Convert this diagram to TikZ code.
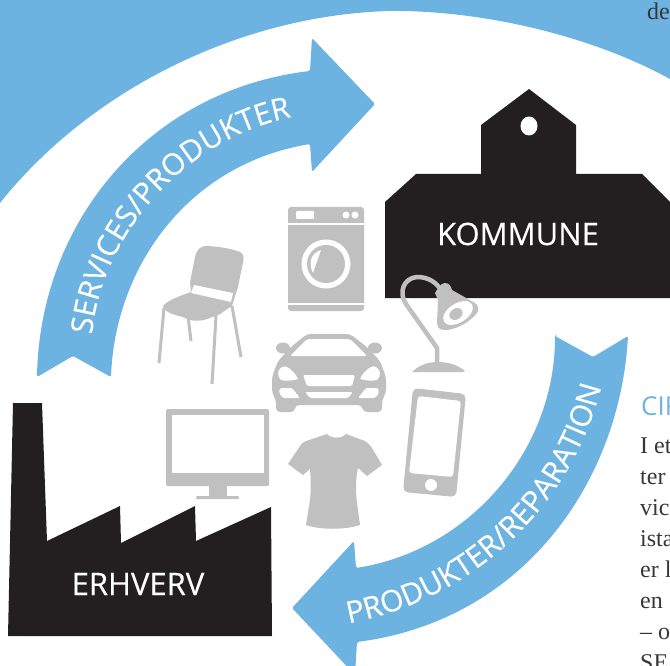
\documentclass[tikz,border=0pt]{standalone}
\usepackage{fontspec}
\setsansfont{Open Sans}
\setmainfont{Liberation Serif}
\newfontfamily\labelfont[FakeBold=0.25]{Open Sans}
\usetikzlibrary{decorations.text}

\definecolor{bluearrow}{HTML}{6DB3E2}
\definecolor{blackhouse}{HTML}{231F20}
\definecolor{greyicon}{HTML}{C0C0C0}
\definecolor{bodytext}{HTML}{3A3637}

\tikzset{
    house/.style={fill=blackhouse},
    icon/.style={fill=greyicon},
    hole/.style={fill=white},
    leg/.style={draw=greyicon, line width=3pt},
    bluearc/.style={fill=bluearrow, rounded corners=1.5pt},
    housename/.style={text=white, font=\labelfont\fontsize{31}{31}\selectfont},
    bodyline/.style={anchor=base west, inner sep=0pt, text=bodytext, font=\rmfamily\fontsize{24}{24}\selectfont},
}

\begin{document}
\begin{tikzpicture}[x=1pt, y=-1pt]
    \useasboundingbox (0,0) rectangle (670,666);

    % blue ground behind the circle
    \fill[bluearrow] (0,0) -- (670,0) -- (670,79)
        .. controls (590,35) and (480,10) .. (390,11)
        .. controls (240,15) and (90,90) .. (0,203) -- cycle;

    % arrows
    \fill[bluearc] (37,377) -- (73,356) -- (111,377)
        .. controls (115,270) and (185,165) .. (310,144)
        -- (312,172) -- (375,104) -- (312,38) -- (310,71)
        .. controls (150,90) and (40,220) .. (37,377) -- cycle;
    \fill[bluearc] (555,336) -- (593,357) -- (628,336)
        .. controls (620,480) and (525,620) .. (357,642)
        -- (355,675) -- (292,608) -- (354,541) -- (356,568)
        .. controls (470,550) and (555,450) .. (555,336) -- cycle;

    \path[decorate, decoration={text along path, text align=center,
            text={|\labelfont\fontsize{30}{30}\selectfont\color{white}|SERVICES/PRODUKTER}}]
        (92,335) .. controls (100,240) and (180,140) .. (292,117);
    \path[decorate, decoration={text along path, text align=center,
            text={|\labelfont\fontsize{30}{30}\selectfont\color{white}|PRODUKTER/REPARATION}}]
        (350,623) .. controls (470,600) and (570,510) .. (601,388);

    % kommune
    \fill[house] (385,298) -- (385,202) -- (416,174) -- (481,174) -- (481,125) -- (529,89)
        -- (576,125) -- (576,174) -- (642,174) -- (670,202) -- (670,298) -- cycle;
    \fill[hole] (529,126) circle [x radius=8.5, y radius=9.5];
    \node (kommune) at (518,234) [housename] {KOMMUNE};

    % erhverv
    \fill[house] (8,636) -- (13,403) -- (42,403) -- (47,541) -- (120,506) -- (121,543)
        -- (195,506) -- (196,541) -- (271,507) -- (272,636) -- cycle;
    \node (erhverv) at (138,584) [housename] {ERHVERV};

    % washer
    \fill[icon, rounded corners=3pt] (288,207) rectangle (364,311);
    \fill[hole] (288,223) rectangle (364,225);
    \fill[hole] (288,303) rectangle (364,305);
    \fill[hole, rounded corners=1pt] (296,211) rectangle (314,219);
    \foreach \k in {346, 355} {
        \fill[hole] (\k,215) circle (3.5);
    }
    \fill[hole] (326,264) circle (24.5);
    \fill[icon] (326,264) circle (19);
    \fill[hole] (321,250) -- (313,273) .. controls (309,265) and (309,254) .. (321,250) -- cycle;

    % chair
    \draw[leg] (164,308) -- (159,363);
    \draw[leg] (188,316) -- (191,341);
    \draw[leg] (216,316) -- (212,384);
    \draw[leg] (232,306) -- (241,357);
    \fill[icon] (163,306) .. controls (168,300) and (180,296) .. (191,292) -- (190,282)
        -- (195,257) .. controls (197,249) and (200,246) .. (208,246)
        .. controls (222,247) and (232,249) .. (240,252) .. controls (244,254) and (244,258) .. (243,262)
        -- (238,287) -- (232,306) .. controls (222,312) and (218,317) .. (212,317)
        .. controls (200,323) and (190,321) .. (183,317) .. controls (175,315) and (165,313) .. (163,306) -- cycle;
    \fill[hole] (194,285) -- (233,293) -- (231,302) -- (191,293) -- cycle;

    % lamp
    \draw[greyicon, line width=4.5pt] (437,364) -- (437,348) -- (406,304)
        .. controls (398,292) and (404,278) .. (417,277) .. controls (428,277) and (436,282) .. (441,290);
    \fill[icon] (412,372) .. controls (420,364) and (430,362) .. (438,362)
        .. controls (448,362) and (458,365) .. (465,371) -- (463,372) -- cycle;
    \fill[icon] (435,293) .. controls (438,288) and (441,283) .. (445,283)
        .. controls (449,283) and (451,286) .. (452,290) -- (475,303) .. controls (479,306) and (479,311) .. (477,313)
        .. controls (470,322) and (455,331) .. (443,330) .. controls (438,329) and (437,326) .. (437,323)
        -- (438,300) -- cycle;
    \fill[hole, rotate around={32:(458,313)}] (458,313) circle [x radius=16.5, y radius=9.5];
    \fill[icon, rotate around={32:(456,314)}] (456,314) circle [x radius=7, y radius=5.5];

    % car
    \fill[icon] (283,348) circle [x radius=7, y radius=5.5];
    \fill[icon] (375,348) circle [x radius=7, y radius=5.5];
    \fill[icon, rounded corners=4pt] (307,334) -- (350,334) -- (367,347) -- (380,361) -- (386,377) -- (386,393)
        -- (382,400) -- (382,412) -- (363,412) -- (362,405) -- (295,405) -- (295,412) -- (276,412)
        -- (276,400) -- (272,393) -- (272,377) -- (278,361) -- (291,347) -- cycle;
    \fill[hole, rounded corners=2pt] (290,356) -- (307,339) -- (350,339) -- (367,356) -- cycle;
    \fill[hole, rounded corners=1.5pt] (303,375) -- (355,375) -- (352,386) -- (307,386) -- cycle;
    \fill[hole, rounded corners=1.5pt] (305,392) -- (353,392) -- (348,398) -- (310,398) -- cycle;
    \foreach \m in {0, 1} {
        \begin{scope}[shift={(658*\m,0)}, xscale={1-2*\m}]
            \fill[hole] (278,373) .. controls (279,368) and (283,365) .. (287,367)
                .. controls (292,370) and (296,374) .. (298,379) .. controls (292,381) and (285,381) .. (281,380)
                .. controls (279,378) and (278,376) .. (278,373) -- cycle;
            \fill[hole, rounded corners=1.5pt] (280,388) -- (292,388) -- (300,398) -- (283,398) -- (279,393) -- cycle;
        \end{scope}
    }

    % monitor
    \fill[icon, rounded corners=1.5pt] (166,409) rectangle (269,486);
    \fill[hole] (172,415) rectangle (264,473);
    \fill[icon] (209,486) rectangle (227,497);
    \fill[icon, rounded corners=1pt] (196,496) rectangle (239,499);

    % shirt
    \fill[icon] (327,434) .. controls (330,437) and (334,438) .. (337,437.5) .. controls (341,438) and (344,436) .. (346,434)
        -- (365,441) .. controls (368,443) and (370,445) .. (372,448) -- (382,465) -- (367,476) -- (358,468)
        .. controls (355,480) and (356,495) .. (357,503) -- (360,525) .. controls (345,530) and (320,530) .. (306,525)
        -- (310,500) .. controls (311,490) and (311,480) .. (310,469) -- (303,475) -- (288,464)
        -- (300,446) .. controls (302,443) and (304,442) .. (306,441) -- cycle;

    % phone
    \fill[icon, rounded corners=5pt] (413,388) -- (466,394) -- (456,497) -- (403,492) -- cycle;
    \fill[hole, rounded corners=3pt] (418,396) -- (461,401) -- (453,477) -- (409,473) -- cycle;
    \fill[hole] (431,485) circle (6);

    % running text
    \node (de) at (647,20) [bodyline] {de};
    \node (cir) at (641,415) [anchor=base west, inner sep=0pt, text=bluearrow, font=\sffamily\fontsize{26}{26}\selectfont] {CIR};
    \foreach \k/\t in {453/I et, 484/ter, 515/vic, 546/ista, 577/er l, 608/en, 639/-- o, 670/SE} {
        \node (line\k) at (640,\k) [bodyline] {\t};
    }
\end{tikzpicture}
\end{document}
